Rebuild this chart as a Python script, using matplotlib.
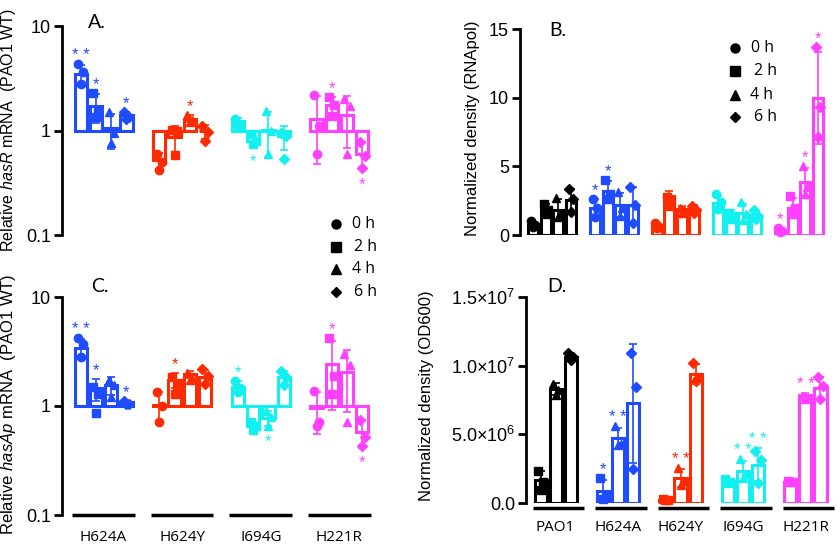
import matplotlib.pyplot as plt
import numpy as np

plt.rcParams['font.family'] = 'Liberation Sans'
plt.rcParams['mathtext.fontset'] = 'custom'
plt.rcParams['mathtext.rm'] = 'Liberation Sans'
plt.rcParams['mathtext.it'] = 'Liberation Sans:italic'

# ---------------- data ----------------
strains_ac = ['H624A', 'H624Y', 'I694G', 'H221R']
strains_bd = ['PAO1', 'H624A', 'H624Y', 'I694G', 'H221R']
times_abc = ['0 h', '2 h', '4 h', '6 h']
times_d = ['2 h', '4 h', '6 h']

# A. relative hasR mRNA (bar = mean, pts = replicates), one row per strain
hasR_mean = [[3.45, 1.70, 1.05, 1.40],
             [0.52, 0.86, 1.30, 0.98],
             [1.22, 0.80, 1.02, 0.88],
             [1.30, 1.75, 1.42, 0.60]]
hasR_pts = [[[4.3, 3.6, 2.8], [2.3, 1.5, 1.35], [1.5, 0.95, 0.76], [1.5, 1.35, 1.28]],
            [[0.6, 0.5, 0.42], [1.02, 0.98, 0.58], [1.4, 1.25, 1.2], [1.1, 0.97, 0.79]],
            [[1.3, 1.12, 1.1], [0.92, 0.8, 0.75], [1.55, 1.0, 0.6], [0.95, 0.88, 0.53]],
            [[2.2, 1.1, 0.6], [2.1, 1.75, 1.38], [2.0, 1.7, 0.6], [0.78, 0.57, 0.44]]]
hasR_sig = [['**', '*', '', '*'], ['', '', '*', ''], ['', '*', '', ''], ['', '*', '', '*']]

# B. normalized density (RNApol)
rnapol_mean = [[0.75, 1.85, 1.85, 2.55],
               [1.97, 3.20, 2.20, 2.20],
               [0.65, 2.85, 1.90, 1.90],
               [2.30, 1.60, 1.60, 1.45],
               [0.35, 2.00, 3.85, 10.0]]
rnapol_pts = [[[1.0, 0.7, 0.55], [2.25, 1.8, 1.5], [2.7, 1.6, 1.3], [3.35, 2.6, 1.7]],
              [[2.65, 2.0, 1.3], [4.0, 3.0, 2.6], [3.1, 2.0, 1.4], [3.5, 2.2, 0.9]],
              [[0.9, 0.6, 0.5], [2.8, 2.5, 2.1], [1.95, 1.8, 1.6], [2.1, 1.8, 1.6]],
              [[2.95, 2.4, 1.9], [1.6, 1.4, 1.2], [2.4, 1.5, 1.1], [1.85, 1.4, 1.2]],
              [[0.5, 0.3, 0.2], [2.85, 2.0, 1.5], [5.0, 3.5, 3.0], [13.7, 9.3, 7.1]]]
rnapol_sig = [['', '', '', ''], ['*', '*', '', ''], ['', '', '', ''],
              ['', '', '', ''], ['*', '', '*', '*']]

# C. relative hasAp mRNA
hasAp_mean = [[3.40, 1.45, 1.55, 1.08],
              [1.02, 1.75, 1.95, 1.85],
              [1.50, 0.65, 0.78, 1.83],
              [0.95, 2.45, 2.07, 0.58]]
hasAp_pts = [[[4.2, 3.7, 2.8], [1.5, 1.3, 0.86], [1.75, 1.55, 1.2], [1.1, 1.05, 1.05]],
             [[1.35, 1.0, 0.72], [1.85, 1.55, 1.3], [2.0, 1.8, 1.75], [2.2, 1.9, 1.6]],
             [[1.7, 1.45, 1.35], [0.72, 0.65, 0.6], [0.9, 0.8, 0.65], [2.1, 1.85, 1.55]],
             [[1.38, 0.72, 0.66], [4.2, 1.9, 1.3], [3.0, 2.4, 0.72], [0.75, 0.52, 0.43]]]
hasAp_sig = [['**', '*', '', '*'], ['', '*', '', ''], ['*', '', '*', ''], ['', '*', '', '*']]

# D. normalized density (OD600)
od_mean = [[1.65e6, 8.3e6, 1.06e7],
           [0.85e6, 4.7e6, 7.25e6],
           [0.25e6, 1.8e6, 9.4e6],
           [1.6e6, 2.35e6, 2.8e6],
           [1.55e6, 7.9e6, 8.35e6]]
od_pts = [[[2.35e6, 1.5e6, 0.95e6], [8.7e6, 8.2e6, 7.9e6], [1.09e7, 1.06e7, 1.04e7]],
          [[1.85e6, 0.45e6, 0.3e6], [5.6e6, 4.3e6, 4.2e6], [1.09e7, 8.45e6, 2.45e6]],
          [[0.3e6, 0.25e6, 0.2e6], [2.55e6, 1.6e6, 1.3e6], [1.02e7, 9.1e6, 8.9e6]],
          [[1.75e6, 1.55e6, 1.45e6], [3.2e6, 2.1e6, 1.8e6], [3.8e6, 3.1e6, 1.45e6]],
          [[1.6e6, 1.5e6, 1.5e6], [7.8e6, 7.7e6, 7.6e6], [9.2e6, 8.5e6, 7.6e6]]]
od_sig = [['', '', ''], ['*', '**', ''], ['', '**', ''], ['', '**', '**'], ['', '**', '']]

# ---------------- style ----------------
colors = {'PAO1': '#000000', 'H624A': '#1f4cff', 'H624Y': '#ff2a00',
          'I694G': '#12f0f0', 'H221R': '#ff40ff'}
time_markers = {'0 h': 'o', '2 h': 's', '4 h': '^', '6 h': 'D'}
jitter = [-0.17, 0.17, 0.0]

W, H = 840, 545
fig = plt.figure(figsize=(W / 100, H / 100), dpi=100)


def px_axes(l, t, r, b):
    return fig.add_axes([l / W, 1 - b / H, (r - l) / W, (b - t) / H])


def style_axis(ax):
    for s in ['top', 'right', 'bottom']:
        ax.spines[s].set_visible(False)
    ax.spines['left'].set_linewidth(2)
    ax.tick_params(axis='y', length=6, width=2, labelsize=13, pad=2)
    ax.tick_params(axis='x', length=0)


def draw_panel(ax, strains, times, means, pts, sigs, spacing, log):
    for g, strain in enumerate(strains):
        c = colors[strain]
        for i, t in enumerate(times):
            x = g * spacing + i
            m = means[g][i]
            p = np.array(pts[g][i])
            sd = p.std(ddof=1)
            if log:
                ax.bar(x, m - 1, bottom=1, width=0.8, facecolor='white',
                       edgecolor=c, linewidth=2.2, zorder=2)
            else:
                ax.bar(x, m, width=0.8, facecolor='white',
                       edgecolor=c, linewidth=2.2, zorder=2)
            ax.errorbar(x, m, yerr=sd, color=c, lw=1.2, capsize=3,
                        capthick=1.2, zorder=3)
            mk = time_markers[t]
            ms = 5.0 if mk == 'D' else 6.0
            ax.plot(x + np.array(jitter), p, ls='none', marker=mk, ms=ms,
                    color=c, mec=c, zorder=4, clip_on=False)
            s = sigs[g][i]
            if s:
                label = ' '.join(s)
                if log and m < 1:
                    y = min(p.min(), m - sd)
                    ax.annotate(label, (x, y), xytext=(0, -11),
                                textcoords='offset points', ha='center',
                                va='center', color=c, fontsize=12)
                else:
                    y = max(p.max(), m + sd)
                    ax.annotate(label, (x, y), xytext=(0, 6),
                                textcoords='offset points', ha='center',
                                va='center', color=c, fontsize=12)


# ---------------- panel A ----------------
sp_ac = 5.15
axA = px_axes(62, 26, 375, 235)
draw_panel(axA, strains_ac, times_abc, hasR_mean, hasR_pts, hasR_sig, sp_ac, True)
axA.set_yscale('log')
axA.set_ylim(0.1, 10)
axA.set_xlim(-1.22, 19.28)
axA.set_yticks([0.1, 1, 10])
axA.set_yticklabels(['0.1', '1', '10'])
axA.yaxis.set_minor_locator(plt.NullLocator())
axA.set_xticks([])
style_axis(axA)
axA.set_ylabel(r'Relative $\mathit{hasR}$ mRNA  (PAO1 WT)', fontsize=11.5)
axA.yaxis.set_label_coords(-0.14, 0.50)

# ---------------- panel C ----------------
axC = px_axes(62, 297, 375, 515)
draw_panel(axC, strains_ac, times_abc, hasAp_mean, hasAp_pts, hasAp_sig, sp_ac, True)
axC.set_yscale('log')
axC.set_ylim(0.1, 10)
axC.set_xlim(-1.22, 19.28)
axC.set_yticks([0.1, 1, 10])
axC.set_yticklabels(['0.1', '1', '10'])
axC.yaxis.set_minor_locator(plt.NullLocator())
centers_ac = [g * sp_ac + 1.5 for g in range(len(strains_ac))]
axC.set_xticks(centers_ac)
axC.set_xticklabels(strains_ac, fontsize=11, family='Open Sans')
style_axis(axC)
axC.tick_params(axis='x', pad=11)
for g in range(len(strains_ac)):
    axC.plot([g * sp_ac - 0.55, g * sp_ac + 3.55], [0, 0], color='black', lw=2.5,
             transform=axC.get_xaxis_transform(), clip_on=False, solid_capstyle='butt')
axC.set_ylabel(r'Relative $\mathit{hasAp}$ mRNA  (PAO1 WT)', fontsize=12)
axC.yaxis.set_label_coords(-0.14, 0.51)

# ---------------- panel B ----------------
sp_b = 4.92
axB = px_axes(520, 29, 832, 235)
draw_panel(axB, strains_bd, times_abc, rnapol_mean, rnapol_pts, rnapol_sig, sp_b, False)
axB.set_ylim(0, 15)
axB.set_xlim(-1.06, 23.82)
axB.set_yticks([0, 5, 10, 15])
axB.set_xticks([])
style_axis(axB)
axB.set_ylabel('Normalized density (RNApol)', fontsize=12)
axB.yaxis.set_label_coords(-0.128, 0.52)

# ---------------- panel D ----------------
sp_d = 4.15
axD = px_axes(526, 297, 836, 503)
draw_panel(axD, strains_bd, times_d, od_mean, od_pts, od_sig, sp_d, False)
axD.set_ylim(0, 1.5e7)
axD.set_xlim(-0.965, 19.63)
axD.set_yticks([0, 5e6, 1e7, 1.5e7])
axD.set_yticklabels(['0.0', r'5.0×10$^{6}$', r'1.0×10$^{7}$', r'1.5×10$^{7}$'])
centers_d = [g * sp_d + 1 for g in range(len(strains_bd))]
axD.set_xticks(centers_d)
axD.set_xticklabels(strains_bd, fontsize=11, family='Open Sans')
style_axis(axD)
axD.tick_params(axis='x', pad=12)
for g in range(len(strains_bd)):
    axD.plot([g * sp_d - 0.5, g * sp_d + 2.9], [-0.025, -0.025], color='black', lw=2.5,
             transform=axD.get_xaxis_transform(), clip_on=False, solid_capstyle='butt')
axD.set_ylabel('Normalized density (OD600)', fontsize=12)
axD.yaxis.set_label_coords(-0.297, 0.52)

# ---------------- overlay: legends and panel letters ----------------
ov = fig.add_axes([0, 0, 1, 1])
ov.set_xlim(0, W)
ov.set_ylim(H, 0)
ov.axis('off')
ov.patch.set_visible(False)


def time_legend(x0, rows, text_dx):
    for t, y, dx in zip(times_abc, rows, text_dx):
        mk = time_markers[t]
        ov.plot(x0, y, marker=mk, ms=6.5 if mk != 'D' else 5.5, color='black', ls='none')
        ov.text(x0 + dx, y, t, fontsize=11.5, family='Open Sans',
                va='center', ha='left')


time_legend(336, [224, 247, 269, 292], [16, 18, 16, 18])
time_legend(735, [48, 71, 95, 117], [16, 19, 15, 19])

for letter, x, y in [('A.', 88, 23), ('B.', 549, 30), ('C.', 91, 287), ('D.', 547, 287)]:
    ov.text(x, y, letter, fontsize=14, family='Lato', va='center', ha='left')

plt.savefig('out.png', dpi=100)
